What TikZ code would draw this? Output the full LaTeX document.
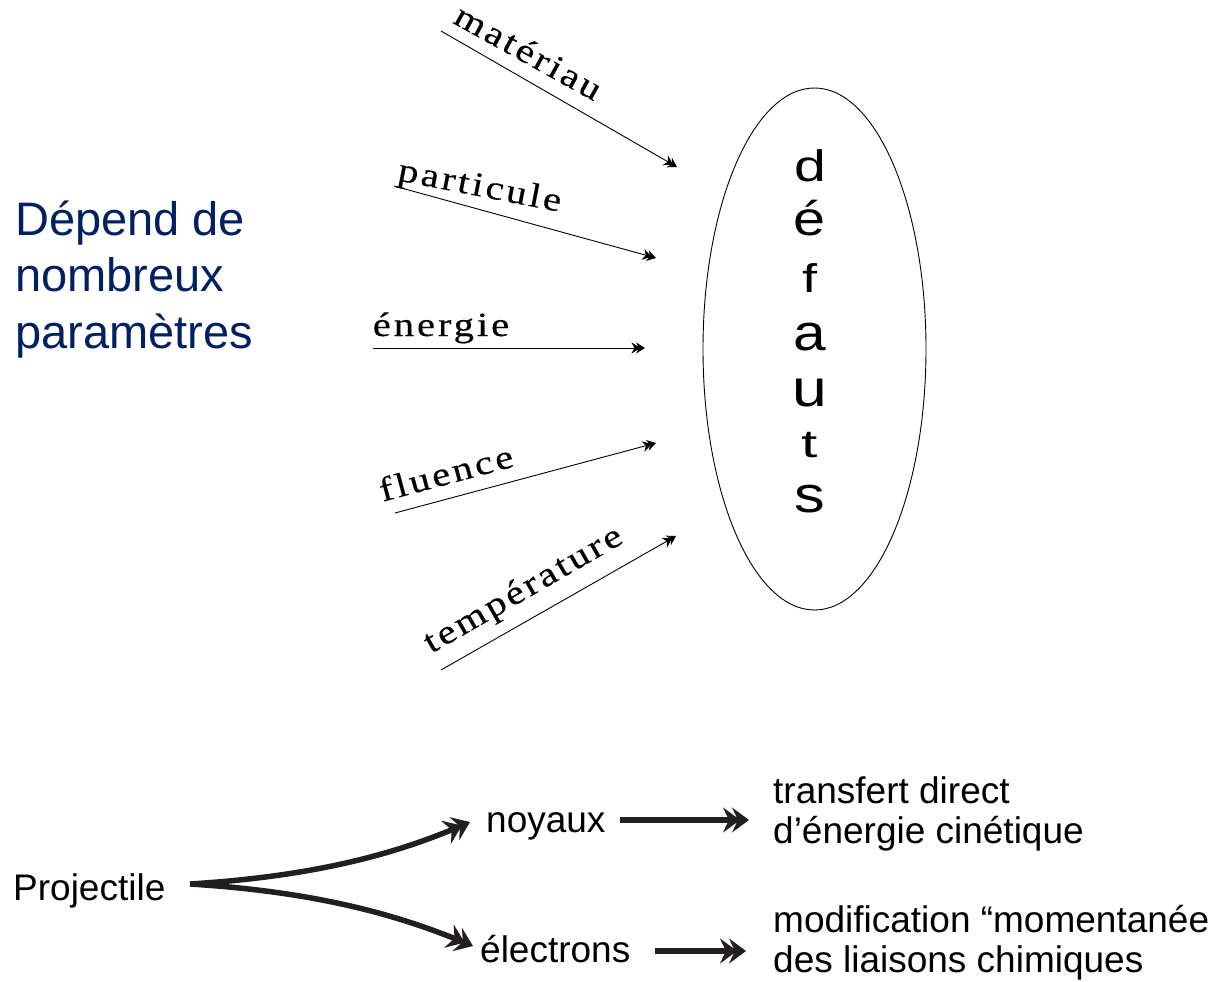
\documentclass[tikz,border=0pt]{standalone}
\usepackage{fontspec}
\setmainfont{Liberation Serif}
\setsansfont{Liberation Sans}
\newfontfamily\lblfont[LetterSpace=7,FakeBold=0.3]{Liberation Serif}
\usetikzlibrary{arrows.meta,shapes.geometric}
\definecolor{navy}{RGB}{0,32,96}
\definecolor{ink}{RGB}{35,31,32}
\newcommand\widelbl[1]{\scalebox{1.2}[1]{#1}}
\tikzset{
  lbl/.style={anchor=base,inner sep=0pt,font=\lblfont\fontsize{34}{34}\selectfont},
  thinarrow/.style={draw=black,line width=0.9pt,
    -{Stealth[length=9pt,width=11pt,inset=3pt,sep=-4.5pt]Stealth[length=9pt,width=11pt,inset=3pt]}},
  thickarrow/.style={draw=ink,line width=5.5pt,
    -{Stealth[length=17pt,width=25pt,inset=6pt,sep=-8pt]Stealth[length=17pt,width=25pt,inset=6pt]}},
  sans/.style={anchor=base west,inner sep=0pt,font=\sffamily\fontsize{37}{37}\selectfont},
  title/.style={anchor=base west,inner sep=0pt,text=navy,font=\sffamily\fontsize{47}{47}\selectfont},
  letter/.style={anchor=base,inner sep=0pt,font=\sffamily\fontsize{#1}{#1}\selectfont}
}
\begin{document}
\begin{tikzpicture}[x=1pt,y=-1pt]
\useasboundingbox (0,0) rectangle (1218,982);
% title
\node[title] (t1) at (15,235) {Dépend de};
\node[title] (t2) at (15,291) {nombreux};
\node[title] (t3) at (15,348) {paramètres};
% ellipse
\node[draw=black,line width=0.9pt,ellipse,minimum width=223pt,minimum height=522pt,inner sep=0pt] (ell) at (814.5,349) {};
\foreach \ch/\y/\s/\sx [count=\i] in {d/181/44/1.3,é/235/48/1.2,f/292/40/1.35,a/350/51/1.15,u/406/52/1.2,t/457/39/1.5,s/512/51/1.2}
  \node[letter=\s] (l\i) at (810,\y) {\scalebox{\sx}[1]{\ch}};
% arrow coordinates
\coordinate (m0) at (441,31);  \coordinate (m1) at (677,167);
\coordinate (p0) at (394,186); \coordinate (p1) at (656,258);
\coordinate (e0) at (373,348); \coordinate (e1) at (645,348);
\coordinate (f0) at (395,513); \coordinate (f1) at (656,443);
\coordinate (r0) at (441,670); \coordinate (r1) at (676,536);
\draw[thinarrow] (m0) -- (m1);
\draw[thinarrow] (p0) -- (p1);
\draw[thinarrow] (e0) -- (e1);
\draw[thinarrow] (f0) -- (f1);
\draw[thinarrow] (r0) -- (r1);
% labels
\node[lbl,rotate=-29] (lm) at (523,62) {\widelbl{matériau}};
\node[lbl,rotate=-11] (lp) at (478,196) {\widelbl{particule}};
\node[lbl] (le) at (441,336) {\widelbl{énergie}};
\node[lbl,rotate=15] (lf) at (449,484) {\widelbl{fluence}};
\node[lbl,rotate=30] (lr) at (528,598) {\widelbl{température}};
% bottom part
\node[sans] (proj) at (13,900) {Projectile};
\node[sans] (noy) at (486,832) {noyaux};
\node[sans] (elec) at (480,962) {électrons};
\node[sans] (tr1) at (773,803) {transfert direct};
\node[sans] (tr2) at (773,843) {d’énergie cinétique};
\node[sans] (mo1) at (773,932) {modification “momentanée};
\node[sans] (mo2) at (773,972) {des liaisons chimiques};
\coordinate (ps) at (190,884);
\coordinate (nt) at (470,822);
\coordinate (et) at (473,946);
\coordinate (ns) at (620,820); \coordinate (ne) at (749,820);
\coordinate (es) at (655,951); \coordinate (ee) at (746,951);
\draw[thickarrow] (ps) .. controls (320,876) and (400,852) .. (nt);
\draw[thickarrow] (ps) .. controls (320,892) and (400,916) .. (et);
\draw[thickarrow] (ns) -- (ne);
\draw[thickarrow] (es) -- (ee);
\end{tikzpicture}
\end{document}
